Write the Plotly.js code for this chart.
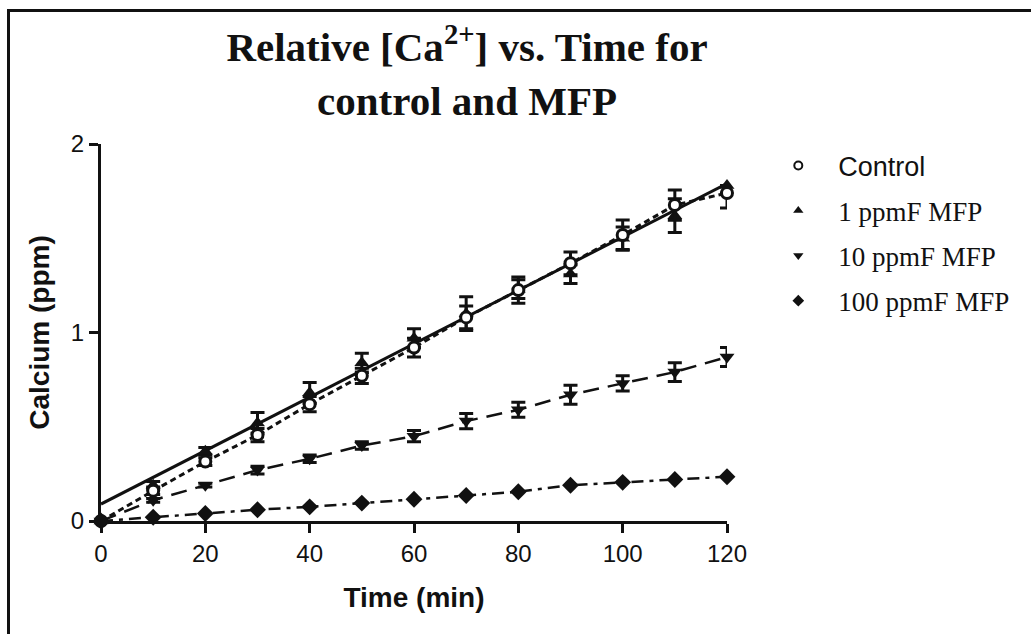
<!DOCTYPE html>
<html>
<head>
<meta charset="utf-8">
<script src="https://cdn.plot.ly/plotly-3.0.1.min.js"></script>
<style>
  html, body { margin: 0; padding: 0; background: #fff; }
  #wrap { position: relative; width: 1031px; height: 634px; }
  #chart { width: 1031px; height: 634px; }
  #frame { position: absolute; left: 7px; top: 9px; width: 1040px; height: 660px;
           border-top: 3px solid #111; border-left: 3px solid #111; pointer-events: none; }
</style>
</head>
<body>
<div id="wrap">
  <div id="chart"></div>
  <div id="frame"></div>
</div>
<script>
// ---- data ----
const time = [0, 10, 20, 30, 40, 50, 60, 70, 80, 90, 100, 110, 120];

const control      = [0, 0.16, 0.315, 0.456, 0.62, 0.77, 0.92, 1.08, 1.225, 1.367, 1.517, 1.676, 1.74];
const controlErrUp = [0, 0.02, 0.02, 0.035, 0.04, 0.04, 0.05, 0.06, 0.07, 0.06, 0.08, 0.08, 0];
const controlErrDn = [0, 0.02, 0.02, 0.035, 0.04, 0.04, 0.05, 0.06, 0.07, 0.06, 0.08, 0.08, 0.08];

const mfp1    = [0, 0.19, 0.37, 0.52, 0.68, 0.84, 0.97, 1.10, 1.23, 1.31, 1.50, 1.62, 1.78];
const mfp1Err = [0, 0.02, 0.02, 0.055, 0.055, 0.05, 0.05, 0.09, 0.05, 0.05, 0.06, 0.09, 0];

const mfp1FitX = [0, 120];
const mfp1FitY = [0.09, 1.79];

const mfp10    = [0, 0.11, 0.19, 0.27, 0.33, 0.40, 0.45, 0.53, 0.59, 0.67, 0.73, 0.79, 0.87];
const mfp10Err = [0, 0.01, 0.01, 0.02, 0.02, 0.02, 0.03, 0.04, 0.04, 0.05, 0.04, 0.05, 0.05];

const mfp100   = [0, 0.02, 0.04, 0.06, 0.075, 0.095, 0.115, 0.135, 0.155, 0.19, 0.205, 0.22, 0.235];

const seriesNames = ['<span style="font-family:\'Liberation Sans\', Arial, sans-serif">Control</span>',
                     '1 ppmF MFP', '10 ppmF MFP', '100 ppmF MFP'];
const xTicks = [0, 20, 40, 60, 80, 100, 120];
const yTicks = [0, 1, 2];

// ---- styling ----
const ink = '#111111';
const errStyle = (arr, arrMinus) => ({
  type: 'data', array: arr, arrayminus: arrMinus || arr, symmetric: !arrMinus,
  visible: true, color: ink, thickness: 3, width: 7
});

const traces = [
  { x: mfp1FitX, y: mfp1FitY, mode: 'lines', showlegend: false, hoverinfo: 'skip',
    line: { color: ink, width: 3 }, cliponaxis: false },
  { x: time, y: mfp1, mode: 'markers', showlegend: false, cliponaxis: false,
    marker: { symbol: 'triangle-up', size: 13, color: ink },
    error_y: errStyle(mfp1Err) },
  { x: time, y: control, mode: 'lines+markers', showlegend: false, cliponaxis: false,
    line: { color: ink, width: 3, dash: '6px,4px' },
    marker: { symbol: 'circle', size: 11, color: '#ffffff', line: { color: ink, width: 3 } },
    error_y: errStyle(controlErrUp, controlErrDn) },
  { x: time, y: mfp10, mode: 'lines+markers', showlegend: false, cliponaxis: false,
    line: { color: ink, width: 2.5, dash: '16px,9px' },
    marker: { symbol: 'triangle-down', size: 13, color: ink },
    error_y: errStyle(mfp10Err) },
  { x: time, y: mfp100, mode: 'lines+markers', showlegend: false, cliponaxis: false,
    line: { color: ink, width: 2.5, dash: '12px,6px,4px,6px' },
    marker: { symbol: 'diamond', size: 13, color: ink } },
  { x: [null], y: [null], mode: 'markers', name: seriesNames[0], legendgroup: 'a',
    marker: { symbol: 'circle', size: 8, color: '#fff', line: { color: ink, width: 2 } } },
  { x: [null], y: [null], mode: 'markers', name: seriesNames[1], legendgroup: 'b',
    marker: { symbol: 'triangle-up', size: 9, color: ink } },
  { x: [null], y: [null], mode: 'markers', name: seriesNames[2], legendgroup: 'c',
    marker: { symbol: 'triangle-down', size: 9, color: ink } },
  { x: [null], y: [null], mode: 'markers', name: seriesNames[3], legendgroup: 'd',
    marker: { symbol: 'diamond', size: 9, color: ink } }
];

const layout = {
  width: 1031, height: 634,
  paper_bgcolor: '#ffffff', plot_bgcolor: '#ffffff',
  margin: { l: 101, r: 304, t: 144, b: 113 },
  showlegend: true,
  font: { family: 'Liberation Sans, Arial, sans-serif', color: ink },
  title: {
    text: '<b>Relative [Ca<sup>2+</sup>] vs. Time for<br>control and MFP</b>',
    font: { family: 'Liberation Serif, Times New Roman, serif', size: 41, color: ink },
    xref: 'container', yref: 'container', x: 0.453, xanchor: 'center',
    y: 0.903, yanchor: 'top'
  },
  xaxis: {
    range: [0, 120], tickvals: xTicks, ticktext: xTicks.map(String),
    showgrid: false, zeroline: false, showline: true, linecolor: ink, linewidth: 3,
    ticks: 'outside', ticklen: 9, tickwidth: 3, tickcolor: ink,
    tickfont: { size: 24, family: 'Liberation Sans, Arial, sans-serif', color: ink },
    title: { text: '<b>Time (min)</b>', font: { size: 28, family: 'Liberation Sans, Arial, sans-serif', color: ink }, standoff: 22 },
    fixedrange: true
  },
  yaxis: {
    range: [0, 2], tickvals: yTicks, ticktext: yTicks.map(String),
    showgrid: false, zeroline: false, showline: true, linecolor: ink, linewidth: 3,
    ticks: 'outside', ticklen: 9, tickwidth: 3, tickcolor: ink,
    tickfont: { size: 24, family: 'Liberation Sans, Arial, sans-serif', color: ink },
    title: { text: '<b>Calcium (ppm)</b>', font: { size: 28, family: 'Liberation Sans, Arial, sans-serif', color: ink }, standoff: 14 },
    fixedrange: true
  },
  legend: {
    x: 1.05, xanchor: 'left', y: 1.007, yanchor: 'top',
    font: { family: 'Liberation Serif, Times New Roman, serif', size: 27, color: ink },
    traceorder: 'grouped', tracegroupgap: 7, itemwidth: 70,
    bgcolor: 'rgba(0,0,0,0)', borderwidth: 0
  }
};

Plotly.newPlot('chart', traces, layout, { displayModeBar: false, staticPlot: true });
</script>
</body>
</html>
